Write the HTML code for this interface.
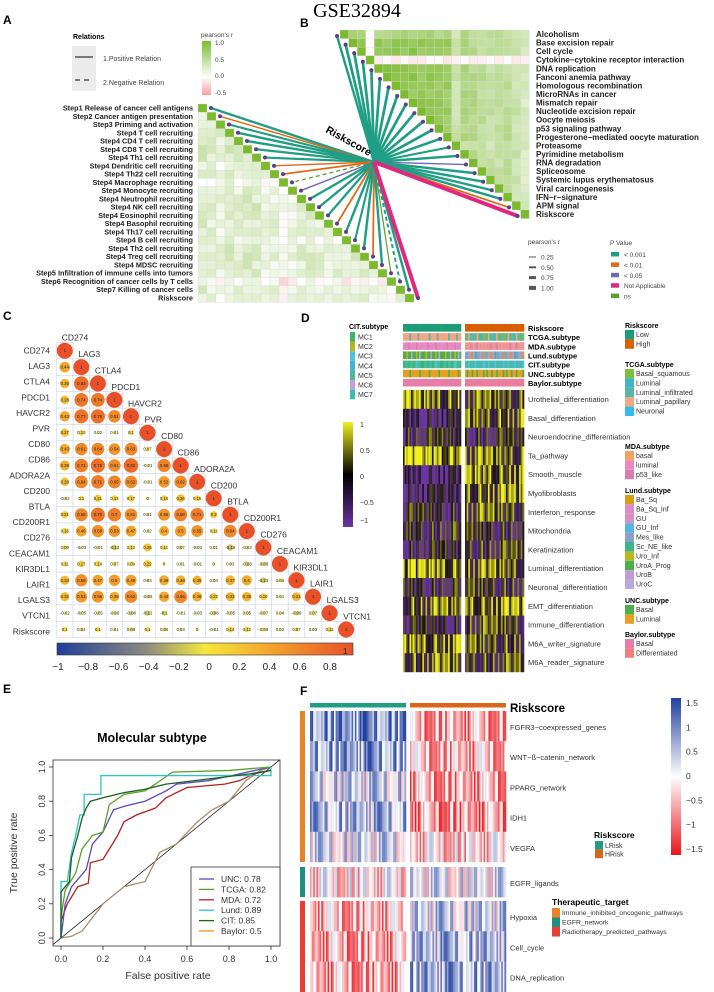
<!DOCTYPE html>
<html><head><meta charset="utf-8"><style>
html,body{margin:0;padding:0;background:#fff;}
svg{display:block;font-family:"Liberation Sans",Arial,sans-serif;}
</style></head><body>
<svg id="chart" xmlns="http://www.w3.org/2000/svg" width="714" height="992" viewBox="0 0 714 992">
<defs>
<linearGradient id="gA" x1="0" y1="0" x2="0" y2="1"><stop offset="0" stop-color="#7cbb2e"/><stop offset="0.67" stop-color="#ffffff"/><stop offset="1" stop-color="#f4a0a0"/></linearGradient>
<linearGradient id="gC" x1="0" y1="0" x2="1" y2="0"><stop offset="0" stop-color="#203f9a"/><stop offset="0.3" stop-color="#8c8a80"/><stop offset="0.5" stop-color="#f5e83c"/><stop offset="0.75" stop-color="#f39c2a"/><stop offset="1" stop-color="#e8502a"/></linearGradient>
<linearGradient id="gD" x1="0" y1="0" x2="0" y2="1"><stop offset="0" stop-color="#f0f022"/><stop offset="0.5" stop-color="#000000"/><stop offset="1" stop-color="#6a35a0"/></linearGradient>
<linearGradient id="gF" x1="0" y1="0" x2="0" y2="1"><stop offset="0" stop-color="#2140a0"/><stop offset="0.5" stop-color="#ffffff"/><stop offset="1" stop-color="#e8151c"/></linearGradient>
</defs>
</svg>
<script>
// ---------- data ----------
const aLabels = ["Step1 Release of cancer cell antigens","Step2 Cancer antigen presentation","Step3 Priming and activation","Step4 T cell recruiting","Step4 CD4 T cell recruiting","Step4 CD8 T cell recruiting","Step4 Th1 cell recruiting","Step4 Dendritic cell recruiting","Step4 Th22 cell recruiting","Step4 Macrophage recruiting","Step4 Monocyte recruiting","Step4 Neutrophil recruiting","Step4 NK cell recruiting","Step4 Eosinophil recruiting","Step4 Basophil recruiting","Step4 Th17 cell recruiting","Step4 B cell recruiting","Step4 Th2 cell recruiting","Step4 Treg cell recruiting","Step4 MDSC recruiting","Step5 Infiltration of immune cells into tumors","Step6 Recognition of cancer cells by T cells","Step7 Killing of cancer cells","Riskscore"];
const aStrength = [0.3,0.2,0.1,0.3,0.3,0.35,0.3,0.1,0.15,-0.05,0.1,0.2,0.3,0.15,0.2,0.2,0.05,0.25,0.25,0.2,0.2,-0.2,0.15,0.1];
const aLineP = [0,1,0,0,0,0,0,1,1,4,2,0,0,0,1,0,0,0,1,0,4,0,0,3];
const aLineR = [0.5,0.2,0.4,0.5,0.5,0.45,0.45,0.2,0.3,-0.15,0.2,0.5,0.5,0.45,0.3,0.5,0.4,0.5,0.3,0.5,0.12,-0.35,0.5,1];
const bLabels = ["Alcoholism","Base excision repair","Cell cycle","Cytokine−cytokine receptor interaction","DNA replication","Fanconi anemia pathway","Homologous recombination","MicroRNAs in cancer","Mismatch repair","Nucleotide excision repair","Oocyte meiosis","p53 signaling pathway","Progesterone−mediated oocyte maturation","Proteasome","Pyrimidine metabolism","RNA degradation","Spliceosome","Systemic lupus erythematosus","Viral carcinogenesis","IFN−r−signature","APM signal","Riskscore"];
const bStrength = [0.6,0.8,0.85,-0.05,0.85,0.85,0.85,0.8,0.85,0.8,0.8,0.75,0.75,0.4,0.6,0.55,0.5,0.45,0.45,0.5,0.4,0.3];
const bLineP = [0,0,0,0,0,0,0,0,0,0,0,0,0,0,0,2,0,0,0,0,1,3];
const bLineR = [0.5,0.6,0.6,0.6,0.6,0.6,0.6,0.6,0.6,0.6,0.6,0.6,0.55,0.4,0.5,0.2,0.5,0.5,0.5,0.5,0.3,1];
const texture = [0.6,-0.8,0.3,0.9,-0.4,-0.9,0.5,0.1,-0.6,0.8,-0.2,0.7,-0.7,0.2,0.95,-0.5,0.4,-0.95,0.0,0.65,-0.3,0.85,-0.85,0.45,-0.1,0.75,-0.65,0.25,0.55,-0.45,0.9,-0.25,0.15,-0.75,0.7,-0.55,0.35,-0.15,0.8,-0.9];

const cLabels = ["CD274","LAG3","CTLA4","PDCD1","HAVCR2","PVR","CD80","CD86","ADORA2A","CD200","BTLA","CD200R1","CD276","CEACAM1","KIR3DL1","LAIR1","LGALS3","VTCN1","Riskscore"];
const cValues = [
[],
[0.44],
[0.35,0.83],
[0.28,0.74,0.74],
[0.43,0.77,0.79,0.61],
[0.27,0.13,0.02,0.01,0.1],
[0.43,0.61,0.64,0.54,0.63,0.07],
[0.39,0.71,0.79,0.61,0.82,-0.01,0.68],
[0.28,0.64,0.71,0.65,0.62,-0.01,0.52,0.62],
[-0.02,0.1,0.21,0.14,0.17,0,0.15,0.26,0.15],
[0.21,0.66,0.78,0.7,0.61,0.01,0.56,0.68,0.71,0.2],
[0.16,0.46,0.58,0.53,0.47,0.02,0.4,0.5,0.55,0.11,0.64],
[0.09,-0.03,-0.01,-0.13,0.12,0.25,0.11,0.07,-0.03,0.01,-0.16,-0.02],
[0.11,0.17,0.14,0.07,0.09,0.22,0,0.01,-0.01,0,0.03,-0.08,-0.08],
[0.33,0.59,0.47,0.5,0.49,0.03,0.39,0.38,0.35,0.04,0.37,0.4,-0.13,0.06],
[0.32,0.53,0.56,0.38,0.62,-0.05,0.43,0.65,0.38,0.22,0.33,0.35,0.19,0.01,0.31],
[-0.02,-0.05,-0.05,-0.06,-0.08,-0.12,-0.1,-0.01,-0.03,-0.08,-0.05,0.05,-0.07,0.04,-0.09,0.07],
[0.1,0.04,0.1,0.01,0.08,0.1,0.06,0.03,0,-0.01,0.14,0.12,-0.06,0.02,0.07,0.03,0.11]
];
const cTicks = [-1,-0.8,-0.6,-0.4,-0.2,0,0.2,0.4,0.6,0.8];

const dRows = ["Urothelial_differentiation","Basal_differentiation","Neuroendocrine_differentiation","Ta_pathway","Smooth_muscle","Myofibroblasts","Interferon_response","Mitochondria","Keratinization","Luminal_differentiation","Neuronal_differentiation","EMT_differentiation","Immune_differentiation","M6A_writer_signature","M6A_reader_signature"];
const dLowMean = [0.3,-0.6,-0.3,0.7,-0.7,-0.6,-0.3,-0.2,-0.4,0.5,-0.3,0.2,-0.4,0.4,0.2];
const dHighMean = [0.1,0.2,-0.3,0.2,0.4,0.3,0.1,-0.2,-0.1,0.2,-0.1,0.4,0.0,0.1,0.0];
const tcgaLow=[3,3,3,3,1,3,3,3,3,2,3,3], tcgaHigh=[0,2,3,1,0,4,2,3,0,1,2,0];
const mdaLow=[1,1,1,2,1,1,1,1,2,1,1,1], mdaHigh=[0,1,0,2,1,0,1,2,0,1,0,1];
const lundLow=[7,7,6,7,7,8,7,7,6,7,9,7], lundHigh=[4,3,1,0,4,2,5,4,3,1,4,0];
const citLow=[0,4,6,0,4,6,0,4,2,6,4,0], citHigh=[3,4,2,6,4,3,2,4,6,3,4,2];
const uncLow=[1,1,1,1,0,1,1,1,1,1,0,1], uncHigh=[1,0,1,1,0,1,1,0,1,1,1,0];
const baylorLow=[0,0,0,0,0,0,0,0,0,0,0,0], baylorHigh=[0,0,1,0,0,0,1,0,0,0,0,1];

const rocNames = ["UNC: 0.78","TCGA: 0.82","MDA: 0.72","Lund: 0.89","CIT: 0.85","Baylor: 0.5"];
const rocUNC = [[0,0],[0.02,0.2],[0.05,0.3],[0.12,0.4],[0.15,0.55],[0.2,0.62],[0.25,0.75],[0.3,0.77],[0.4,0.8],[0.5,0.86],[0.55,0.9],[0.7,0.92],[0.85,0.96],[1,1]];
const rocTCGA = [[0,0],[0,0.12],[0.02,0.28],[0.07,0.38],[0.1,0.52],[0.15,0.6],[0.2,0.62],[0.23,0.78],[0.3,0.84],[0.4,0.86],[0.45,0.9],[0.53,0.97],[0.8,0.98],[1,1]];
const rocMDA = [[0,0],[0,0.1],[0.03,0.2],[0.08,0.3],[0.13,0.32],[0.14,0.44],[0.2,0.46],[0.22,0.5],[0.27,0.6],[0.3,0.68],[0.36,0.72],[0.45,0.76],[0.5,0.82],[0.6,0.88],[0.78,0.9],[0.85,0.92],[0.92,0.96],[1,0.98]];
const rocLund = [[0,0],[0,0.33],[0.03,0.33],[0.05,0.5],[0.07,0.6],[0.09,0.72],[0.11,0.72],[0.11,0.84],[0.19,0.84],[0.19,0.95],[0.53,0.95],[1,0.95],[1,1]];
const rocCIT = [[0,0],[0,0.27],[0.04,0.33],[0.05,0.47],[0.08,0.6],[0.1,0.7],[0.12,0.76],[0.14,0.8],[0.2,0.82],[0.3,0.85],[0.4,0.87],[0.5,0.9],[0.7,0.93],[0.9,0.96],[1,0.98]];
const rocBaylor = [[0,0],[0.05,0.01],[0.1,0.04],[0.15,0.12],[0.2,0.2],[0.3,0.3],[0.4,0.33],[0.47,0.5],[0.55,0.55],[0.65,0.68],[0.72,0.75],[0.8,0.8],[0.88,0.92],[0.95,0.98],[1,1]];
const rocTicks = [0,0.2,0.4,0.6,0.8,1.0];

const fRows = ["FGFR3−coexpressed_genes","WNT−ß−catenin_network","PPARG_network","IDH1","VEGFA","EGFR_ligands","Hypoxia","Cell_cycle","DNA_replication"];
const fLowMean = [0.8,0.7,0.3,0.5,0.2,-0.2,-0.5,-0.6,-0.6];
const fHighMean = [-0.6,-0.5,-0.6,-0.7,-0.3,0.1,0.3,0.5,0.6];
const fTicks = [1.5,1,0.5,0,-0.5,-1,-1.5];

// ---------- helpers ----------
const NS="http://www.w3.org/2000/svg";
const svg=document.getElementById('chart');
function mk(tag,attrs,parent){const e=document.createElementNS(NS,tag);for(const k in attrs)e.setAttribute(k,attrs[k]);(parent||svg).appendChild(e);return e;}
function txt(x,y,s,attrs,parent){const e=mk('text',Object.assign({x:x,y:y},attrs||{}),parent);e.textContent=s;return e;}
function lerp(a,b,t){return a+(b-a)*t;}
function hex(c){return [parseInt(c.substr(1,2),16),parseInt(c.substr(3,2),16),parseInt(c.substr(5,2),16)];}
function ramp(stops,v){ // stops [[v,color]]
  if(v<=stops[0][0])return stops[0][1];
  for(let i=1;i<stops.length;i++){if(v<=stops[i][0]){const t=(v-stops[i-1][0])/(stops[i][0]-stops[i-1][0]);const a=hex(stops[i-1][1]),b=hex(stops[i][1]);return 'rgb('+Math.round(lerp(a[0],b[0],t))+','+Math.round(lerp(a[1],b[1],t))+','+Math.round(lerp(a[2],b[2],t))+')';}}
  return stops[stops.length-1][1];}
const abStops=[[-0.5,'#f4a0a0'],[0,'#ffffff'],[1,'#7cbb2e']];
const cStops=[[-1,'#203f9a'],[-0.4,'#8c8a80'],[0,'#f5e83c'],[0.5,'#f39c2a'],[1,'#e8502a']];
const dStops=[[-1,'#6a35a0'],[0,'#1a1410'],[1,'#f0f022']];
const fStops=[[-1.5,'#e8151c'],[0,'#ffffff'],[1.5,'#2140a0']];
const pCols=['#1f9e84','#e06a1a','#6e68b8','#e0287e','#5aa02c'];

// ---------- title & panel labels ----------
let t=txt(357,17,"GSE32894",{'font-family':'"Liberation Serif",serif','font-size':20,'text-anchor':'middle'});


[["A",3,24],["B",300,27],["C",3,320],["D",301,322],["E",3,693],["F",300,695]].forEach(p=>{
  const l=txt(p[1],p[2],p[0],{'font-size':12,'font-weight':'bold'});
  
  
});

// ---------- Panel A/B ----------
const gAB=mk('g',{});


const center=[374,162];
const aX0=198,aY0=104,aCW=9.0,aCH=8.26;
for(let i=0;i<aLabels.length;i++){
  for(let j=0;j<=i;j++){
    const v=(i===j)?1:(aStrength[i]+aStrength[j])/2+0.12*texture[(i*5+j*3)%40];
    const r=mk('rect',{x:aX0+j*aCW,y:aY0+i*aCH,width:aCW,height:aCH,fill:(i===j)?'#7cbb2e':ramp(abStops,v),stroke:'#d8d8d8','stroke-width':0.3},gAB);
    
    
  }
  const l=txt(193,aY0+i*aCH+6.5,aLabels[i],{'font-size':7.3,'font-weight':'bold','text-anchor':'end',fill:'#222'},gAB);
  
  
}
const bX0=340,bY0=30,bCW=8.6,bCH=8.57;
for(let i=0;i<bLabels.length;i++){
  for(let j=i;j<bLabels.length;j++){
    const v=(i===j)?1:Math.min(bStrength[i],bStrength[j])+0.08*texture[(i*7+j*3)%40];
    const r=mk('rect',{x:bX0+j*bCW,y:bY0+i*bCH,width:bCW,height:bCH,fill:(i===j)?'#7cbb2e':ramp(abStops,v),stroke:'#d8d8d8','stroke-width':0.3},gAB);
    
    
  }
  const l=txt(536,bY0+i*bCH+7,bLabels[i],{'font-size':8,'font-weight':'bold',fill:'#222'},gAB);
  
  
}
// links
for(let i=0;i<aLabels.length;i++){
  const x=aX0+(i+1)*aCW+4,y=aY0+i*aCH+4;
  const ln=mk('line',{x1:center[0],y1:center[1],x2:x,y2:y,stroke:pCols[aLineP[i]],'stroke-width':0.8+Math.abs(aLineR[i])*3.2,'stroke-dasharray':aLineR[i]<0?'4,3':'none'},gAB);
  
  
  const d=mk('circle',{cx:x,cy:y,r:2,fill:'#5b3f8f'},gAB);
  
  
}
for(let i=0;i<bLabels.length;i++){
  const x=bX0+i*bCW-3,y=bY0+i*bCH+6;
  const ln=mk('line',{x1:center[0],y1:center[1],x2:x,y2:y,stroke:pCols[bLineP[i]],'stroke-width':0.8+Math.abs(bLineR[i])*3.2},gAB);
  
  
  const d=mk('circle',{cx:x,cy:y,r:2,fill:'#5b3f8f'},gAB);
  
  
}
const rs=txt(0,0,"Riskscore",{'font-size':10.5,'font-weight':'bold','text-anchor':'middle',transform:'translate(347,144) rotate(29)'},gAB);


// A legend
let e=txt(73,39,"Relations",{'font-size':7,'font-weight':'bold'});


e=mk('rect',{x:72,y:46,width:24,height:45,fill:'#ececec'});


e=mk('line',{x1:75,y1:57,x2:93,y2:57,stroke:'#555','stroke-width':1.5});


e=mk('line',{x1:75,y1:80,x2:93,y2:80,stroke:'#555','stroke-width':1.5,'stroke-dasharray':'5,4'});


e=txt(103,61,"1.Positive Relation",{'font-size':7,fill:'#444'});


e=txt(103,85,"2.Negative Relation",{'font-size':7,fill:'#444'});


e=txt(201,37,"pearson's r",{'font-size':6.5,fill:'#444'});


e=mk('rect',{x:202,y:41,width:9,height:54,fill:'url(#gA)'});


[["1.0",45],["0.5",62],["0.0",78],["-0.5",95]].forEach(p=>{
  const l=txt(215,p[1],p[0],{'font-size':6.5,fill:'#444'});
  
  
});
// B legend
e=txt(528,244,"pearson's r",{'font-size':6.5,fill:'#444'});


[["0.25",1],["0.50",2],["0.75",3],["1.00",4]].forEach((p,k)=>{
  const y=257+k*10.3;
  const l=mk('rect',{x:529,y:y-p[1]/2,width:7,height:p[1],fill:'#555'});
  
  
  const tx=txt(541,y+2.5,p[0],{'font-size':6.5,fill:'#444'});
  
  
});
e=txt(610,245,"P Value",{'font-size':6.5,fill:'#444'});


["< 0.001","< 0.01","< 0.05","Not Applicable","ns"].forEach((s,k)=>{
  const y=254+k*10.4;
  const r=mk('rect',{x:611,y:y-2,width:8,height:4.5,fill:pCols[k]});
  
  
  const tx=txt(624,y+3,s,{'font-size':6.5,fill:'#444'});
  
  
});

// ---------- Panel C ----------
const gC=mk('g',{});


const cX0=56.5,cY0=342.5,cCW=16.55,cCH=16.4;
for(let i=0;i<cValues.length;i++){
  const row=cValues[i].concat([1]);
  for(let j=0;j<row.length;j++){
    const cell=mk('rect',{x:cX0+j*cCW,y:cY0+i*cCH,width:cCW,height:cCH,fill:'#fff',stroke:'#c8cfe0','stroke-width':0.5},gC);
    
    
  }
}
for(let i=0;i<cValues.length;i++){
  const row=cValues[i].concat([1]);
  for(let j=0;j<row.length;j++){
    const v=row[j],cx=cX0+(j+0.5)*cCW,cy=cY0+(i+0.5)*cCH;
    const c=mk('circle',{cx:cx,cy:cy,r:Math.max(1.5,8*Math.sqrt(Math.abs(v))),fill:ramp(cStops,v)},gC);
    
    
    const n=txt(cx,cy+1.5,String(v),{'font-size':4.3,'text-anchor':'middle',fill:'#222'},gC);
    
    
  }
  const cl=txt(cX0+(i+0.5)*cCW-3,cY0+(i+0.5)*cCH-10,cLabels[i],{'font-size':8.5,fill:'#333'},gC);
  
  
}
for(let i=0;i<cLabels.length;i++){
  const rl=txt(50,353.5+i*15.6,cLabels[i],{'font-size':8.5,'text-anchor':'end',fill:'#333'},gC);
  
  
}
e=mk('rect',{x:57,y:643,width:296,height:12,fill:'url(#gC)',stroke:'#333','stroke-width':0.6});


e=txt(343,654,"1",{'font-size':8,fill:'#222'});


function cxScale(v){return 58+(v+1)*151.1;}
cTicks.forEach(v=>{
  const l=txt(cxScale(v),670,v===0?"0":String(v).replace('-','−'),{'font-size':10,'text-anchor':'middle',fill:'#222'});
  
  
});

// ---------- Panel D ----------
const gD=mk('g',{});


const dG=[[403,58],[465,59]],dCols=36,dY0=390,dRH=18.8;
const tcgaCol=['#7fbc41','#41b6c4','#5ab4ac','#f4a582','#33bbee'];
const mdaCol=['#f4a261','#e78ac3','#d97fb0'];
const lundCol=['#d4a017','#d98cc9','#d690c8','#56b4e9','#8da0cb','#3cb48c','#b8b820','#4daf4a','#c39bd3','#b8a9e0'];
const citCol=['#3cb371','#b5b520','#4fc3d9','#45b5d6','#4fb89a','#c79fd0','#3bbfa8'];
const uncCol=['#4daf4a','#e6a020'];
const baylorCol=['#e87ca8','#f08080'];
const annRows=[["Riskscore",null,null,null],["TCGA.subtype",tcgaLow,tcgaHigh,tcgaCol],["MDA.subtype",mdaLow,mdaHigh,mdaCol],["Lund.subtype",lundLow,lundHigh,lundCol],["CIT.subtype",citLow,citHigh,citCol],["UNC.subtype",uncLow,uncHigh,uncCol],["Baylor.subtype",baylorLow,baylorHigh,baylorCol]];
annRows.forEach((a,k)=>{
  const y=324+k*9.15;
  for(let g=0;g<2;g++){
    const cw=dG[g][1]/dCols;
    for(let c=0;c<dCols;c++){
      let col;
      if(a[1]===null) col=g===0?'#1b9e77':'#d95f02';
      else {const pat=g===0?a[1]:a[2];col=a[3][pat[c%pat.length]];}
      const r=mk('rect',{x:dG[g][0]+c*cw,y:y,width:cw+0.3,height:7.6,fill:col},gD);
      
      
    }
  }
  const l=txt(528,y+7,a[0],{'font-size':7.5,'font-weight':'bold'},gD);
  
  
});
for(let r=0;r<dRows.length;r++){
  for(let g=0;g<2;g++){
    const cw=dG[g][1]/dCols,m=g===0?dLowMean[r]:dHighMean[r];
    for(let c=0;c<dCols;c++){
      const v=Math.max(-1,Math.min(1,m+0.9*texture[(c*7+r*11+g*5)%40]));
      const cell=mk('rect',{x:dG[g][0]+c*cw,y:dY0+r*dRH,width:cw+0.3,height:dRH+0.2,fill:ramp(dStops,v)},gD);
      
      
    }
  }
  const l=txt(528,dY0+r*dRH+12,dRows[r],{'font-size':7.5,fill:'#333'},gD);
  
  
}
// D left legend
e=txt(349,329,"CIT.subtype",{'font-size':7,'font-weight':'bold'});


["MC1","MC2","MC3","MC4","MC5","MC6","MC7"].forEach((s,k)=>{
  const r=mk('rect',{x:350,y:332+k*9.6,width:5,height:9.6,fill:citCol[k]});
  
  
  const tx=txt(358,339.5+k*9.6,s,{'font-size':7,fill:'#333'});
  
  
});
e=mk('rect',{x:343,y:422,width:10,height:105,fill:'url(#gD)'});


[["1",424],["0.5",450],["0",476],["−0.5",502],["−1",520]].forEach(p=>{
  const l=txt(360,p[1]+3,p[0],{'font-size':7,fill:'#333'});
  
  
});
// D right legends
const dLeg=[["Riskscore",328,["Low","High"],['#1b9e77','#d95f02']],["TCGA.subtype",367,["Basal_squamous","Luminal","Luminal_infiltrated","Luminal_papillary","Neuronal"],tcgaCol],["MDA.subtype",449,["basal","luminal","p53_like"],mdaCol],["Lund.subtype",493,["Ba_Sq","Ba_Sq_Inf","GU","GU_Inf","Mes_like","Sc_NE_like","Uro_Inf","UroA_Prog","UroB","UroC"],lundCol],["UNC.subtype",603,["Basal","Luminal"],uncCol],["Baylor.subtype",637,["Basal","Differentiated"],baylorCol]];
dLeg.forEach(L=>{
  const ti=txt(625,L[1],L[0],{'font-size':7,'font-weight':'bold'});
  
  
  L[2].forEach((s,k)=>{
    const r=mk('rect',{x:625,y:L[1]+2+k*9.4,width:9,height:9.4,fill:L[3][k]});
    
    
    const tx=txt(636,L[1]+9+k*9.4,s,{'font-size':7,fill:'#333'});
    
    
  });
});

// ---------- Panel E ----------
const gE=mk('g',{});


function ex(v){return 61+v*210;}
function ey(v){return 938-v*171;}
e=txt(152,742,"Molecular subtype",{'font-size':12.5,'font-weight':'bold','text-anchor':'middle'},gE);


e=mk('rect',{x:53,y:760,width:227,height:186,fill:'none',stroke:'#333','stroke-width':0.8},gE);


e=mk('line',{x1:53,y1:ey(0)+8*171/210,x2:280,y2:ey(1)-9*171/210,stroke:'#222','stroke-width':0.8},gE);


rocTicks.forEach(v=>{
  const a=mk('line',{x1:ex(v),y1:946,x2:ex(v),y2:950,stroke:'#333','stroke-width':0.8},gE);
  
  
  const l=txt(ex(v),962,v.toFixed(1),{'font-size':9,'text-anchor':'middle',fill:'#333'},gE);
  
  
  const b=mk('line',{x1:49,y1:ey(v),x2:53,y2:ey(v),stroke:'#333','stroke-width':0.8},gE);
  
  
  const m=txt(0,0,v.toFixed(1),{'font-size':9,'text-anchor':'middle',fill:'#333',transform:'translate(45,'+ey(v)+') rotate(-90)'},gE);
  
  
});
e=txt(168,979,"False positive rate",{'font-size':10.5,'text-anchor':'middle',fill:'#333'},gE);


e=txt(0,0,"True positive rate",{'font-size':10.5,'text-anchor':'middle',fill:'#333',transform:'translate(17,853) rotate(-90)'},gE);


const rocSeries=[[rocBaylor,'#a88c6a',5],[rocMDA,'#b22222',2],[rocUNC,'#5b4bb7',0],[rocTCGA,'#5aa02c',1],[rocLund,'#2ec4c4',3],[rocCIT,'#1b5e20',4]];
rocSeries.forEach(s=>{
  const p=mk('polyline',{points:s[0].map(q=>ex(q[0])+','+ey(q[1])).join(' '),fill:'none',stroke:s[1],'stroke-width':1.3},gE);
  
  
});
e=mk('rect',{x:191,y:867,width:89,height:79,fill:'#fff',stroke:'#333','stroke-width':0.8},gE);


const legCols=['#5b4bb7','#5aa02c','#b22222','#2ec4c4','#1b5e20','#f0901c'];
rocNames.forEach((s,k)=>{
  const y=879+k*10.4;
  const l=mk('line',{x1:199,y1:y,x2:214,y2:y,stroke:legCols[k],'stroke-width':1.3},gE);
  
  
  const tx=txt(221,y+3,s,{'font-size':8.5,fill:'#333'},gE);
  
  
});

// ---------- Panel F ----------
const gF=mk('g',{});


const fG=[[310,96],[410,96]],fCols=60;
const fRowY=[711,741.2,771.4,801.6,831.8,867,901,931.3,961.6],fRH=30.2;
for(let g=0;g<2;g++){
  const r=mk('rect',{x:fG[g][0],y:703,width:fG[g][1],height:4.5,fill:g===0?'#1f9e84':'#d9661a'},gF);
  
  
}
e=txt(510,712,"Riskscore",{'font-size':11.5,'font-weight':'bold'},gF);


[[711,862,'#e8832a'],[867,897,'#1f8f80'],[901,992,'#e83e36']].forEach(b=>{
  const r=mk('rect',{x:300,y:b[0],width:5,height:b[1]-b[0],fill:b[2]},gF);
  
  
});
for(let r=0;r<fRows.length;r++){
  for(let g=0;g<2;g++){
    const cw=fG[g][1]/fCols,m=g===0?fLowMean[r]:fHighMean[r];
    for(let c=0;c<fCols;c++){
      const v=Math.max(-1.5,Math.min(1.5,m+0.8*texture[(c*11+r*7+g*3)%40]));
      const cell=mk('rect',{x:fG[g][0]+c*cw,y:fRowY[r],width:cw+0.25,height:fRH+0.2,fill:ramp(fStops,v)},gF);
      
      
    }
  }
  const l=txt(510,fRowY[r]+19,fRows[r],{'font-size':7.5,fill:'#333'},gF);
  
  
}
e=mk('rect',{x:671,y:698,width:10,height:157,fill:'url(#gF)'});


fTicks.forEach(v=>{
  const y=702+(1.5-v)/3*146;
  const l=txt(686,y+4,v===0?"0":String(v).replace('-','−'),{'font-size':8.5,fill:'#333'});
  
  
});
e=txt(594,838,"Riskscore",{'font-size':8.5,'font-weight':'bold'});


[["LRisk",'#1f9e84'],["HRisk",'#d9661a']].forEach((p,k)=>{
  const r=mk('rect',{x:595,y:841+k*8.6,width:8,height:8.6,fill:p[1]});
  
  
  const tx=txt(605,848+k*8.6,p[0],{'font-size':7,fill:'#333'});
  
  
});
e=txt(552,905,"Therapeutic_target",{'font-size':8.5,'font-weight':'bold'});


[["Immune_inhibited_oncogenic_pathways",'#e8832a'],["EGFR_network",'#1f8f80'],["Radiotherapy_predicted_pathways",'#e83e36']].forEach((p,k)=>{
  const r=mk('rect',{x:552,y:908+k*9.5,width:8,height:9.5,fill:p[1]});
  
  
  const tx=txt(562,915+k*9.5,p[0],{'font-size':6.8,fill:'#333'});
  
  
});
</script>
</body></html>
